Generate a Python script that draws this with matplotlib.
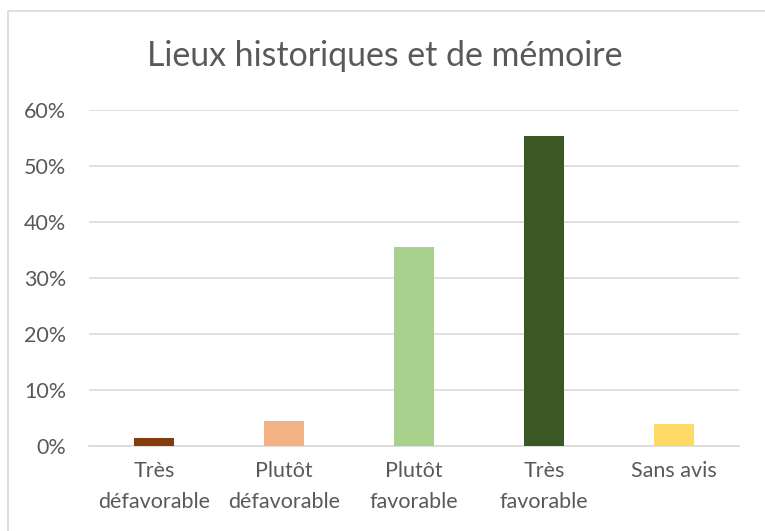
import numpy as np
import matplotlib.pyplot as plt
from matplotlib.lines import Line2D
from matplotlib.ticker import PercentFormatter

plt.rcParams['font.family'] = ['Lato', 'DejaVu Sans']

categories = ['Très\ndéfavorable', 'Plutôt\ndéfavorable', 'Plutôt\nfavorable',
              'Très\nfavorable', 'Sans avis']
values = [1.4, 4.5, 35.5, 55.3, 3.9]
colors = ['#843c0c', '#f4b183', '#a9d18e', '#3a5724', '#ffd966']
yticks = [0, 10, 20, 30, 40, 50, 60]

fig = plt.figure(figsize=(7.65, 5.31), dpi=100)
ax = fig.add_axes([89 / 765, 1 - 446 / 531, 650 / 765, 336 / 531])

x = np.arange(len(categories))
ax.bar(x, values, width=0.315, color=colors, zorder=3)

ax.set_xlim(-0.5, len(categories) - 0.5)
ax.set_ylim(0, 60)
ax.set_yticks(yticks)
ax.yaxis.set_major_formatter(PercentFormatter(decimals=0))
ax.set_xticks(x)
ax.set_xticklabels(categories, linespacing=1.65)
ax.grid(axis='y', color='#d9d9d9', linewidth=1.2, zorder=0)
for s in ['top', 'right', 'left']:
    ax.spines[s].set_visible(False)
ax.spines['bottom'].set_color('#d9d9d9')
ax.spines['bottom'].set_linewidth(1.2)
ax.tick_params(axis='both', length=0, colors='#595959', labelsize=15.5)
ax.tick_params(axis='y', pad=16.5)
ax.tick_params(axis='x', pad=11)

fig.text(385 / 765, 1 - 56 / 531, 'Lieux historiques et de mémoire',
         ha='center', va='center', fontsize=24.4, color='#595959')

# chart border (cropped on right and bottom)
fig.add_artist(Line2D([8 / 765, 8 / 765, 1], [0, 1 - 11 / 531, 1 - 11 / 531],
                      transform=fig.transFigure, color='#d9d9d9', linewidth=1.2))

fig.savefig('out.png', dpi=100)
